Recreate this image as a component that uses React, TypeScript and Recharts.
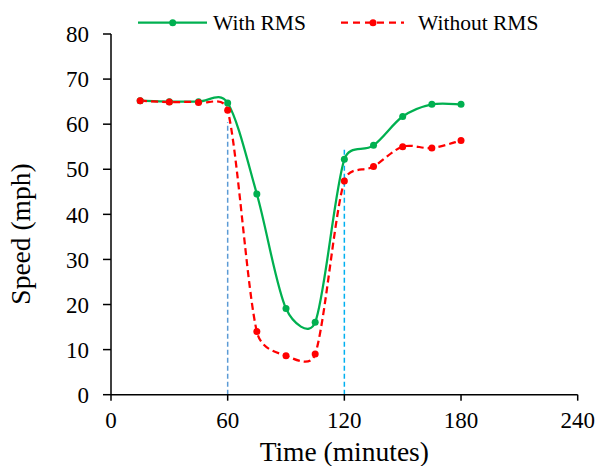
import React from 'react';
import { LineChart, Line, XAxis, YAxis, Legend, ReferenceLine } from 'recharts';

const times = [15, 30, 45, 60, 75, 90, 105, 120, 135, 150, 165, 180];
const withRMS = [65.2, 65.0, 65.0, 64.7, 44.5, 19.1, 16.05, 52.2, 55.3, 61.7, 64.4, 64.4];
const withoutRMS = [65.2, 64.9, 64.8, 63.1, 14.0, 8.65, 9.0, 47.4, 50.6, 55.0, 54.7, 56.4];
const seriesNames = ['With RMS', 'Without RMS'];
const xTicks = [0, 60, 120, 180, 240];
const yTicks = [0, 10, 20, 30, 40, 50, 60, 70, 80];
const markerTimes = [60, 120];
const markerTops = [60.5, 54.3];

const GREEN = '#00B050';
const RED = '#FF0000';
const markerColors = ['#5B9BD5', '#00B0F0'];
const FONT = 'Liberation Serif';
const serif = { fontFamily: FONT };

const data = times.map((t, i) => ({ time: t, withRMS: withRMS[i], withoutRMS: withoutRMS[i] }));

// Excel-like smoothed line: bezier with 1/6 tangents, capped at half the segment length
const excelSmooth = (context: any) => {
  let pts: number[][] = [];
  return {
    areaStart() {},
    areaEnd() {},
    lineStart() {
      pts = [];
    },
    point(x: number, y: number) {
      pts.push([+x, +y]);
    },
    lineEnd() {
      const n = pts.length;
      if (!n) return;
      context.moveTo(pts[0][0], pts[0][1]);
      for (let i = 0; i < n - 1; i++) {
        const p0 = pts[Math.max(i - 1, 0)];
        const p1 = pts[i];
        const p2 = pts[i + 1];
        const p3 = pts[Math.min(i + 2, n - 1)];
        const d12 = Math.hypot(p2[0] - p1[0], p2[1] - p1[1]);
        const tan = (a: number[], b: number[]) => {
          const d = Math.hypot(b[0] - a[0], b[1] - a[1]);
          const f = d === 0 ? 0 : Math.min(1 / 6, d12 / (2 * d));
          return [(b[0] - a[0]) * f, (b[1] - a[1]) * f];
        };
        const t1 = tan(p0, p2);
        const t2 = tan(p1, p3);
        context.bezierCurveTo(p1[0] + t1[0], p1[1] + t1[1], p2[0] - t2[0], p2[1] - t2[1], p2[0], p2[1]);
      }
    },
  };
};

const LegendBox = () => (
  <svg width={604} height={34} style={{ display: 'block' }}>
    <line x1={138} x2={207} y1={22.7} y2={22.7} stroke={GREEN} strokeWidth={2.25} />
    <circle cx={172.7} cy={22.7} r={3.5} fill={GREEN} />
    <text x={213} y={30} fontSize={21.5} style={serif} fill="#000">{seriesNames[0]}</text>
    <line x1={341} x2={404} y1={22.7} y2={22.7} stroke={RED} strokeWidth={2.25} strokeDasharray="7 5" />
    <circle cx={373} cy={22.7} r={3.5} fill={RED} />
    <text x={418} y={30} fontSize={21.5} style={serif} fill="#000">{seriesNames[1]}</text>
  </svg>
);

const XTitle = () => (
  <text x={344.3} y={461} textAnchor="middle" fontSize={27.5} style={serif} fill="#000">
    Time (minutes)
  </text>
);

const YTitle = () => (
  <text x={30} y={234} textAnchor="middle" fontSize={27.5} style={serif} fill="#000" transform="rotate(-90 30 234)">
    Speed (mph)
  </text>
);

export default function App() {
  const tickStyle = { fontSize: 23, fontFamily: FONT, style: serif, fill: '#000' };
  return (
    <div style={{ position: 'absolute', left: 0, top: 0, width: 604, height: 466, background: '#fff', fontFamily: FONT }}>
      <LineChart width={604} height={466} data={data} margin={{ top: 0, right: 26.3, bottom: 0, left: 0 }} style={serif}>
        <XAxis
          dataKey="time"
          type="number"
          domain={[0, 240]}
          ticks={xTicks}
          interval={0}
          tick={tickStyle}
          tickSize={6}
          tickMargin={11}
          height={71.3}
          axisLine={{ stroke: '#000', strokeWidth: 1.5 }}
          tickLine={{ stroke: '#000', strokeWidth: 1.5 }}
          label={<XTitle />}
        />
        <YAxis
          type="number"
          domain={[0, 80]}
          ticks={yTicks}
          interval={0}
          tick={tickStyle}
          tickSize={8}
          tickMargin={14}
          width={111}
          axisLine={{ stroke: '#000', strokeWidth: 1.5 }}
          tickLine={{ stroke: '#000', strokeWidth: 1.5 }}
          label={<YTitle />}
        />
        <Legend verticalAlign="top" content={<LegendBox />} wrapperStyle={{ top: 0, left: 0, width: 604, height: 34 }} />
        <Line
          dataKey="withRMS"
          name={seriesNames[0]}
          type={excelSmooth as any}
          stroke={GREEN}
          strokeWidth={2.25}
          dot={{ r: 3.5, fill: GREEN, stroke: GREEN, strokeWidth: 0 }}
          activeDot={false}
          isAnimationActive={false}
        />
        <Line
          dataKey="withoutRMS"
          name={seriesNames[1]}
          type={excelSmooth as any}
          stroke={RED}
          strokeWidth={2.25}
          strokeDasharray="7 4"
          dot={{ r: 3.5, fill: RED, stroke: RED, strokeWidth: 0, strokeDasharray: '' }}
          activeDot={false}
          isAnimationActive={false}
        />
        {markerTimes.map((t, i) => (
          <ReferenceLine
            key={t}
            segment={[{ x: t, y: 0 }, { x: t, y: markerTops[i] }]}
            stroke={markerColors[i]}
            strokeWidth={1.5}
            strokeDasharray="5 3"
          />
        ))}
      </LineChart>
    </div>
  );
}
